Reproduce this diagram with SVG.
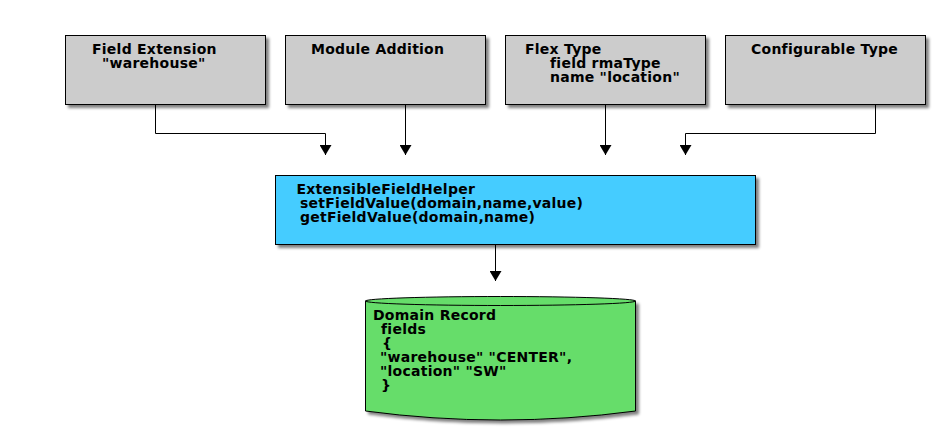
<svg xmlns="http://www.w3.org/2000/svg" width="950" height="448" viewBox="0 0 950 448">
<defs>
<filter id="sh" x="-5%" y="-5%" width="115%" height="130%">
<feGaussianBlur in="SourceAlpha" stdDeviation="1.5"/>
<feOffset dx="3" dy="3" result="b"/>
<feComponentTransfer><feFuncA type="linear" slope="0.5"/></feComponentTransfer>
<feMerge><feMergeNode/><feMergeNode in="SourceGraphic"/></feMerge>
</filter>
<marker id="arr" viewBox="0 0 10 12" refX="10" refY="6" markerWidth="10" markerHeight="12" markerUnits="userSpaceOnUse" orient="auto">
<path d="M0,0 L10,6 L0,12 Z" fill="#000"/>
</marker>
</defs>
<style>
text{font-family:"DejaVu Sans","Liberation Sans",sans-serif;font-weight:bold;font-size:14px;letter-spacing:0.25px;fill:#000}
.box{stroke:#000;stroke-width:1}
.grey{fill:#cccccc}
.blue{fill:#44ccff}
.green{fill:#66dd6a}
.con{fill:none;stroke:#000;stroke-width:1}
</style>
<rect width="950" height="448" fill="#fff"/>
<g id="connectors">
<path class="con" d="M155.5,105 V133.5 H325.5 V155" marker-end="url(#arr)"/>
<path class="con" d="M405.5,105 V155" marker-end="url(#arr)"/>
<path class="con" d="M605.5,105 V155" marker-end="url(#arr)"/>
<path class="con" d="M875.5,105 V133.5 H685.5 V155" marker-end="url(#arr)"/>
<path class="con" d="M495.5,245 V281" marker-end="url(#arr)"/>
</g>
<g id="field-extension">
<rect class="box grey" x="65.5" y="35.5" width="200" height="69" filter="url(#sh)"/>
<text x="92" y="53.5">Field Extension</text>
<text x="102" y="67.5">"warehouse"</text>
</g>
<g id="module-addition">
<rect class="box grey" x="285.5" y="35.5" width="200" height="69" filter="url(#sh)"/>
<text x="311" y="53.5">Module Addition</text>
</g>
<g id="flex-type">
<rect class="box grey" x="505.5" y="35.5" width="200" height="69" filter="url(#sh)"/>
<text x="525" y="53.5">Flex Type</text>
<text x="550" y="67.5">field rmaType</text>
<text x="550" y="81.5">name "location"</text>
</g>
<g id="configurable-type">
<rect class="box grey" x="725.5" y="35.5" width="200" height="69" filter="url(#sh)"/>
<text x="751" y="53.5">Configurable Type</text>
</g>
<g id="helper">
<rect class="box blue" x="275.5" y="175.5" width="480" height="69" filter="url(#sh)"/>
<text x="296.5" y="194">ExtensibleFieldHelper</text>
<text x="300" y="208">setFieldValue(domain,name,value)</text>
<text x="300" y="222">getFieldValue(domain,name)</text>
</g>
<g id="domain-record">
<path class="box green" d="M365.5,301 V411 Q500.5,429 635.5,411 V301 Z" filter="url(#sh)"/>
<ellipse class="box green" cx="500.5" cy="301" rx="135" ry="4.5"/>
<text x="373" y="319.5">Domain Record</text>
<text x="381" y="333.5">fields</text>
<text x="382" y="347.5">{</text>
<text x="380" y="361.5">"warehouse" "CENTER",</text>
<text x="380" y="375.5">"location" "SW"</text>
<text x="381" y="389.5">}</text>
</g>
</svg>
